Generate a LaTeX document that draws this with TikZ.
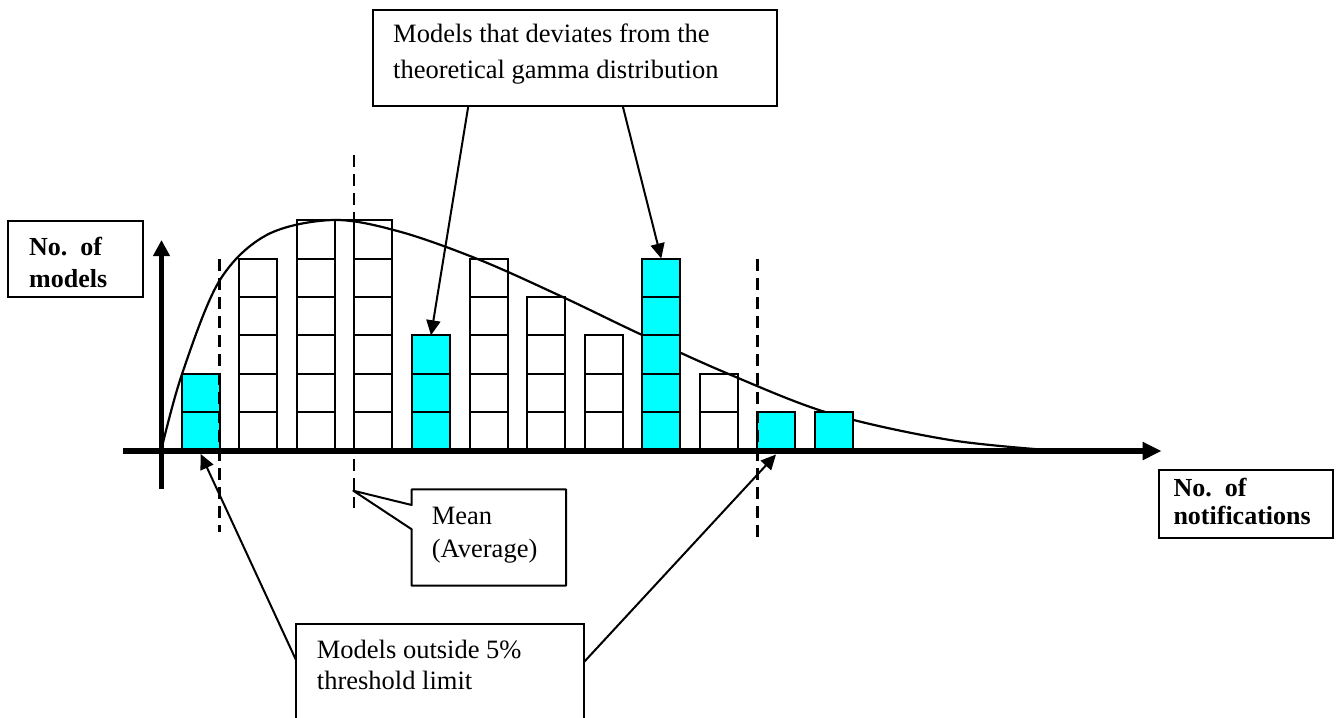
\documentclass[tikz,border=0pt]{standalone}
\usepackage{fontspec}
\setmainfont{Liberation Serif}
\usetikzlibrary{arrows.meta,calc}
\definecolor{barcyan}{RGB}{0,255,255}
\tikzset{
  cell/.style={draw=black, line width=2bp},
  xaxisline/.style={line width=5.5bp, -{Triangle[length=19bp,width=17bp]}},
  yaxisline/.style={line width=4.5bp, -{Triangle[length=16bp,width=16bp]}},
  limitline/.style={line width=2.6bp, dash pattern=on 12bp off 7bp},
  labelbox/.style={draw, line width=2bp, outer sep=0pt, inner sep=0pt, anchor=north west},
  labeltext/.style={anchor=base west, inner sep=0pt},
  pointer/.style={line width=2bp, -{Triangle[length=15bp,width=14bp]}},
  gammacurve/.style={line width=2.2bp},
}
\begin{document}
\frenchspacing
\begin{tikzpicture}[x=1bp, y=-1bp]
\useasboundingbox (0,0) rectangle (1336,717);

% plain (white) bars, drawn below the curve
\foreach \i/\n in {1/5,2/6,3/6,5/5,6/4,7/3,9/2} {
  \pgfmathsetmacro\bx{181.7+57.57*\i}
  \foreach \k in {1,...,\n} {
    \draw[cell] (\bx,{450.5-(\k-1)*38.4}) rectangle ({\bx+38},{450.5-\k*38.4});
  }
}
% joint top edge of the two tallest bars
\draw[cell] (334.8,220.1) -- (354.4,220.1);

% theoretical gamma curve
\draw[gammacurve] plot[smooth, tension=0.55] coordinates {
  (161,451) (181.7,375) (219,281.5) (266.7,235) (333.3,220) (400,231.7)
  (480,260) (563.3,297.3) (640,334) (727,373.3) (830,413.5) (950,440) (1060,451)};

% highlighted (cyan) bars, drawn over the curve
\foreach \i/\n in {0/2,4/3,8/5,10/1,11/1} {
  \pgfmathsetmacro\bx{181.7+57.57*\i}
  \foreach \k in {1,...,\n} {
    \draw[cell, fill=barcyan] (\bx,{450.5-(\k-1)*38.4}) rectangle ({\bx+38},{450.5-\k*38.4});
  }
  \coordinate (bartop-\i) at ({\bx+19},{450.5-\n*38.4});
}

% threshold and mean lines
\coordinate (lowlimtop) at (219.3,259);
\coordinate (lowlimbot) at (219.3,532);
\coordinate (meantop) at (354,155);
\coordinate (meanbot) at (354,508);
\coordinate (highlimtop) at (757.3,259);
\coordinate (highlimbot) at (757.3,540);
\draw[limitline] (lowlimtop) -- (lowlimbot);
\draw[limitline] (meantop) -- (meanbot);
\draw[limitline] (highlimtop) -- (highlimbot);

% axes
\coordinate (xstart) at (123,451);
\coordinate (xend) at (1161.7,451);
\coordinate (ystart) at (161.5,489);
\coordinate (yend) at (161.5,240);
\draw[xaxisline] (xstart) -- (xend);
\draw[yaxisline] (ystart) -- (yend);

% axis labels
\node[labelbox, minimum width=135bp, minimum height=76.6bp] (ylabelbox) at (8.3,220.7) {};
\node[labeltext, font=\fontsize{26bp}{32bp}\selectfont\bfseries] (ylabel) at (29,255)
  {\parbox[t]{110bp}{\raggedright No.\ \ of\\models}};
\node[labelbox, minimum width=174bp, minimum height=68.3bp] (xlabelbox) at (1159.3,470) {};
\node[labeltext, font=\fontsize{26bp}{27.3bp}\selectfont\bfseries] (xlabel) at (1173.3,496.7)
  {\parbox[t]{160bp}{\raggedright No.\ \ of\\notifications}};

% deviating models callout
\node[labelbox, minimum width=404bp, minimum height=96bp] (devbox) at (373,10) {};
\node[labeltext, font=\fontsize{26.5bp}{36bp}\selectfont] (devtext) at (393,42.5)
  {\parbox[t]{380bp}{\raggedright Models that deviates from the\\theoretical gamma distribution}};
\draw[pointer] ($(devbox.south west)+(95.3,0)$) -- (bartop-4);
\draw[pointer] ($(devbox.south west)+(249.7,0)$) -- (bartop-8);

% mean callout with wedge pointer
\node[labelbox, draw=none, minimum width=154.3bp, minimum height=96.4bp] (meanbox) at (411.7,489.3) {};
\coordinate (meanapex) at (353.3,490.7);
\draw[line width=2bp, line join=round] (meanbox.north west) -- (meanbox.north east)
  -- (meanbox.south east) -- (meanbox.south west) -- ($(meanbox.north west)+(0,40)$)
  -- (meanapex) -- ($(meanbox.north west)+(0,15.7)$) -- cycle;
\node[labeltext, font=\fontsize{26.5bp}{33bp}\selectfont] (meantext) at (431.7,524.3)
  {\parbox[t]{130bp}{\raggedright Mean\\(Average)}};

% threshold callout
\node[labelbox, minimum width=288.3bp, minimum height=140bp] (outbox) at (296,624.3) {};
\node[labeltext, font=\fontsize{26.5bp}{31bp}\selectfont] (outtext) at (316.7,658.3)
  {\parbox[t]{260bp}{\raggedright Models outside 5\%\\threshold limit}};
\coordinate (lowtip) at (200.7,454);
\coordinate (hightip) at (776,454.5);
\draw[pointer] ($(outbox.north west)+(0,35.7)$) -- (lowtip);
\draw[pointer] ($(outbox.north east)+(0,37.4)$) -- (hightip);
\end{tikzpicture}
\end{document}
